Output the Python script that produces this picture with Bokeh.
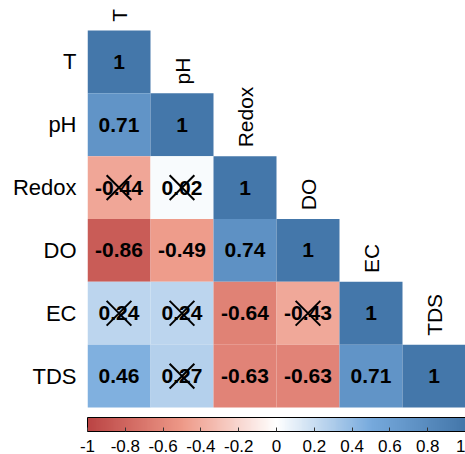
import math
from bokeh.plotting import figure
from bokeh.models import (ColumnDataSource, LinearColorMapper, ColorBar, FixedTicker,
                          CustomJSTickFormatter)
from bokeh.core.properties import value
from bokeh.embed import file_html
from bokeh.resources import INLINE

variables = ["T", "pH", "Redox", "DO", "EC", "TDS"]
corr_rows = [
    [1],
    [0.71, 1],
    [-0.44, 0.02, 1],
    [-0.86, -0.49, 0.74, 1],
    [0.24, 0.24, -0.64, -0.43, 1],
    [0.46, 0.27, -0.63, -0.63, 0.71, 1],
]
insignificant_rows = [
    [0],
    [0, 0],
    [1, 1, 0],
    [0, 0, 0, 0],
    [1, 1, 0, 1, 0],
    [0, 1, 0, 0, 0, 0],
]
colorbar_ticks = [-1, -0.8, -0.6, -0.4, -0.2, 0, 0.2, 0.4, 0.6, 0.8, 1]

# palette (corrplot style ramp)
stops = ["#BB4444", "#EE9988", "#FFFFFF", "#77AADD", "#4477AA"]
def hex2rgb(h):
    return tuple(int(h[i:i + 2], 16) for i in (1, 3, 5))
def ramp(stops, n):
    rgbs = [hex2rgb(s) for s in stops]
    out = []
    for k in range(n):
        t = k / (n - 1) * (len(rgbs) - 1)
        i = min(int(t), len(rgbs) - 2)
        f = t - i
        c = [round(rgbs[i][m] + (rgbs[i + 1][m] - rgbs[i][m]) * f) for m in range(3)]
        out.append("#%02x%02x%02x" % tuple(c))
    return out
palette = ramp(stops, 200)

n = len(variables)
xs, ys, rs, labels, cx, cy = [], [], [], [], [], []
for i, row in enumerate(corr_rows):
    for j, r in enumerate(row):
        xs.append(j + 0.5)
        ys.append(n - i - 0.5)
        rs.append(r)
        labels.append(f"{r:g}")
        if insignificant_rows[i][j]:
            cx.append(j + 0.5)
            cy.append(n - i - 0.5)

src = ColumnDataSource(dict(x=xs, y=ys, r=rs, label=labels))
mapper = LinearColorMapper(palette=palette, low=-1, high=1)

W, H = 465, 454
left = 87
grid_top, grid_bottom = 30, 407
unit = (grid_bottom - grid_top) / n
p = figure(width=W, height=H, x_range=(0, n),
           y_range=(-(H - grid_bottom) / unit, n + grid_top / unit),
           x_axis_location=None, y_axis_location="left",
           output_backend="svg", toolbar_location=None,
           min_border_left=left, min_border_right=0, min_border_top=0, min_border_bottom=0)
p.outline_line_color = None
p.xgrid.visible = False
p.ygrid.visible = False

p.rect(x="x", y="y", width=1, height=1, source=src,
       fill_color={"field": "r", "transform": mapper}, line_color=None)
p.text(x="x", y="y", text="label", source=src, text_align="center", text_baseline="middle",
       text_font=value("Liberation Sans"), text_font_style="bold", text_font_size="21px",
       text_color="black")
p.scatter(cx, cy, marker="x", size=35, line_color="black", line_width=2)

# column labels above diagonal cells
lab_src = ColumnDataSource(dict(x=[j + 0.5 for j in range(n)],
                                y=[n - j + 0.14 for j in range(n)],
                                t=variables))
p.text(x="x", y="y", text="t", source=lab_src, angle=math.pi / 2,
       text_align="left", text_baseline="middle",
       text_font=value("Liberation Sans"), text_font_size="21px", text_color="black")

yax = p.yaxis[0]
yax.ticker = FixedTicker(ticks=[n - i - 0.5 for i in range(n)])
yax.major_label_overrides = {n - i - 0.5: v for i, v in enumerate(variables)}
yax.axis_line_color = None
yax.major_tick_line_color = None
yax.minor_tick_line_color = None
yax.major_tick_out = 0
yax.major_tick_in = 0
yax.major_label_standoff = 11
yax.major_label_text_font = "Liberation Sans"
yax.major_label_text_font_size = "22px"
yax.major_label_text_color = "black"

cb = ColorBar(color_mapper=mapper, orientation="horizontal", width=W - left, height=14,
              location=(0, 0),
              ticker=FixedTicker(ticks=colorbar_ticks),
              formatter=CustomJSTickFormatter(code="return String(Math.round(tick*10)/10)"),
              bar_line_color="black", bar_line_width=1,
              major_tick_line_color="#333333", major_tick_in=4, major_tick_out=0,
              minor_tick_line_color=None,
              major_label_text_font="Liberation Sans", major_label_text_font_size="17px",
              major_label_text_color="black", label_standoff=8,
              padding=0, margin=0, border_line_color=None, background_fill_color=None)
p.add_layout(cb, "center")

open("out.html", "w").write(file_html(p, INLINE))
